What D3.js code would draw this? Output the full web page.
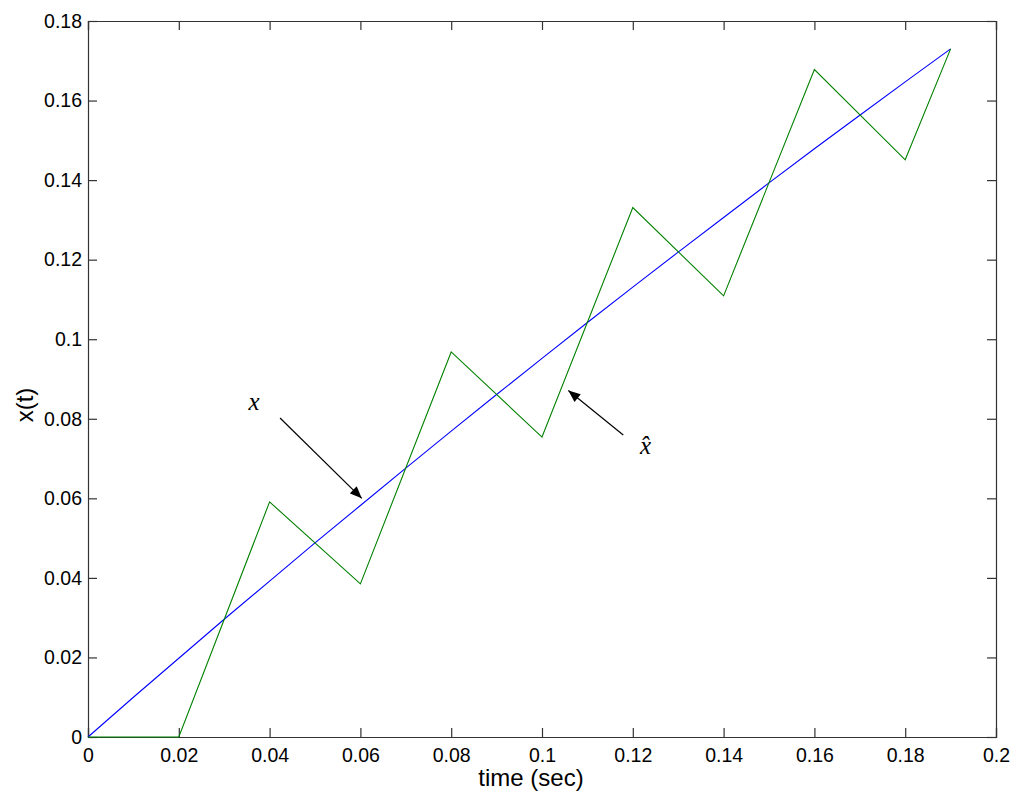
<!DOCTYPE html>
<html>
<head>
<meta charset="utf-8">
<script src="https://cdn.jsdelivr.net/npm/d3@7"></script>
<style>
  body { margin: 0; background: #fff; }
  svg { display: block; font-family: "Liberation Sans", Arial, sans-serif; }
  .tick text { font-size: 19.5px; fill: #000; }
  .ann { font-family: "Liberation Serif", "DejaVu Serif", serif; font-style: italic; font-size: 25px; }
</style>
</head>
<body>
<div id="chart"></div>
<script>
// true signal x(t), read every 0.01 s
const xTimes = [0, 0.01, 0.02, 0.03, 0.04, 0.05, 0.06, 0.07, 0.08, 0.09,
  0.1, 0.11, 0.12, 0.13, 0.14, 0.15, 0.16, 0.17, 0.18, 0.19];
const xValues = [0, 0.0100, 0.0198, 0.0296, 0.0392, 0.0488, 0.0582, 0.0676, 0.0769, 0.0861,
  0.0952, 0.1042, 0.1131, 0.1219, 0.1306, 0.1393, 0.1479, 0.1563, 0.1647, 0.1730];

// estimate x-hat
const hatTimes = [0, 0.02, 0.04, 0.06, 0.08, 0.1, 0.12, 0.14, 0.16, 0.18, 0.19];
const hatValues = [0, 0, 0.0591, 0.0385, 0.0968, 0.0754, 0.1331, 0.1109, 0.1678, 0.1451, 0.173];

const xTicks = [0, 0.02, 0.04, 0.06, 0.08, 0.1, 0.12, 0.14, 0.16, 0.18, 0.2];
const yTicks = [0, 0.02, 0.04, 0.06, 0.08, 0.1, 0.12, 0.14, 0.16, 0.18];

// annotations in data units: label position, arrow start, arrow tip
const annLabels = ["x", "x\u0302"];
const annText = [[0.0366, 0.0837], [0.1228, 0.0727]];
const annFrom = [[0.0423, 0.0802], [0.1179, 0.0759]];
const annTo = [[0.0603, 0.0600], [0.1058, 0.0871]];

const width = 1024;
const height = 805;
const margin = { top: 21, right: 28, bottom: 68, left: 88 };

const svg = d3.select("#chart").append("svg")
  .attr("width", width)
  .attr("height", height);

const xScale = d3.scaleLinear().domain([0, 0.2]).range([margin.left, width - margin.right]);
const yScale = d3.scaleLinear().domain([0, 0.18]).range([height - margin.bottom, margin.top]);

const fmt = (d) => d3.format("~g")(d);
const tickLen = 9;
const axisColor = "#333";

// bottom axis with labels
const bottomAxis = svg.append("g")
  .attr("transform", `translate(0, ${yScale(0)})`)
  .call(d3.axisBottom(xScale).tickValues(xTicks).tickFormat(fmt).tickSize(-tickLen).tickPadding(11));
// left axis with labels
const leftAxis = svg.append("g")
  .attr("transform", `translate(${xScale(0)}, 0)`)
  .call(d3.axisLeft(yScale).tickValues(yTicks).tickFormat(fmt).tickSize(-tickLen).tickPadding(6));
// mirrored top / right ticks, no labels
const topAxis = svg.append("g")
  .attr("transform", `translate(0, ${yScale(0.18)})`)
  .call(d3.axisTop(xScale).tickValues(xTicks).tickFormat("").tickSize(-tickLen));
const rightAxis = svg.append("g")
  .attr("transform", `translate(${xScale(0.2)}, 0)`)
  .call(d3.axisRight(yScale).tickValues(yTicks).tickFormat("").tickSize(-tickLen));

[bottomAxis, leftAxis, topAxis, rightAxis].forEach((g) => {
  g.selectAll("path.domain").attr("stroke", axisColor).attr("stroke-width", 1.2);
  g.selectAll(".tick line").attr("stroke", axisColor).attr("stroke-width", 1.2);
});
bottomAxis.selectAll(".tick text").attr("dy", "0.71em");

// lines
const line = d3.line().x((d) => xScale(d[0])).y((d) => yScale(d[1]));

svg.append("path")
  .datum(xTimes.map((t, i) => [t, xValues[i]]))
  .attr("d", line)
  .attr("fill", "none")
  .attr("stroke", "#0000ff")
  .attr("stroke-width", 1.1);

svg.append("path")
  .datum(hatTimes.map((t, i) => [t, hatValues[i]]))
  .attr("d", line)
  .attr("fill", "none")
  .attr("stroke", "#008000")
  .attr("stroke-width", 1.1);

// axis labels
svg.append("text")
  .attr("x", 531)
  .attr("y", 786)
  .attr("text-anchor", "middle")
  .attr("font-size", 24)
  .text("time (sec)");

svg.append("text")
  .attr("transform", "translate(33, 405) rotate(-90)")
  .attr("text-anchor", "middle")
  .attr("font-size", 24)
  .text("x(t)");

// annotation arrows
svg.append("defs").append("marker")
  .attr("id", "head")
  .attr("viewBox", "0 0 12 10")
  .attr("refX", 12)
  .attr("refY", 5)
  .attr("markerWidth", 13)
  .attr("markerHeight", 10)
  .attr("markerUnits", "userSpaceOnUse")
  .attr("orient", "auto")
  .append("path")
  .attr("d", "M0,0 L12,5 L0,10 Z")
  .attr("fill", "#000");

annLabels.forEach((lab, i) => {
  svg.append("line")
    .attr("x1", xScale(annFrom[i][0]))
    .attr("y1", yScale(annFrom[i][1]))
    .attr("x2", xScale(annTo[i][0]))
    .attr("y2", yScale(annTo[i][1]))
    .attr("stroke", "#000")
    .attr("stroke-width", 1.2)
    .attr("marker-end", "url(#head)");

  svg.append("text")
    .attr("class", "ann")
    .attr("x", xScale(annText[i][0]))
    .attr("y", yScale(annText[i][1]))
    .attr("text-anchor", "middle")
    .attr("dominant-baseline", "middle")
    .text(lab);
});
</script>
</body>
</html>
